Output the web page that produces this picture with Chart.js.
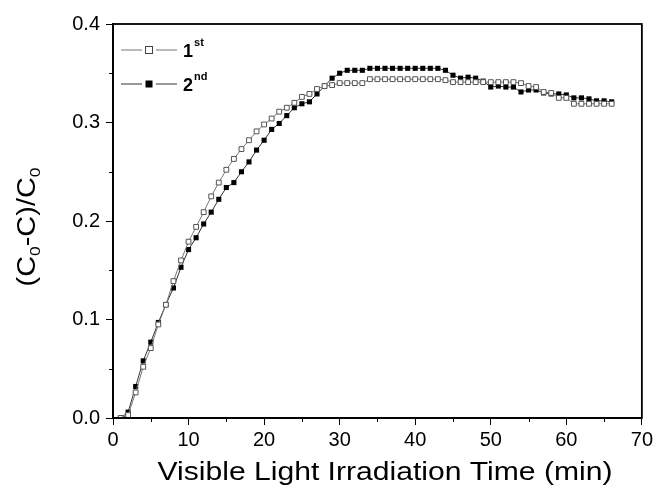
<!DOCTYPE html>
<html>
<head>
<meta charset="utf-8">
<script src="https://cdn.jsdelivr.net/npm/chart.js@4"></script>
<style>
  html, body { margin: 0; padding: 0; background: #fff; }
  #wrap { width: 656px; height: 487px; }
</style>
</head>
<body>
<div id="wrap"><canvas id="grafico"></canvas></div>
<script>
// tempo (min)
const tempos = [1, 2, 3, 4, 5, 6, 7, 8, 9, 10, 11, 12, 13, 14, 15, 16, 17, 18, 19, 20,
  21, 22, 23, 24, 25, 26, 27, 28, 29, 30, 31, 32, 33, 34, 35, 36, 37, 38, 39, 40,
  41, 42, 43, 44, 45, 46, 47, 48, 49, 50, 51, 52, 53, 54, 55, 56, 57, 58, 59, 60,
  61, 62, 63, 64, 65, 66];

// (C0-C)/C0 - 1st ciclo
const ciclo1 = [0.000, 0.003, 0.026, 0.052, 0.071, 0.095, 0.115, 0.139, 0.160, 0.179,
  0.194, 0.209, 0.225, 0.239, 0.252, 0.263, 0.273, 0.282, 0.291, 0.298,
  0.304, 0.311, 0.315, 0.320, 0.326, 0.329, 0.334, 0.337, 0.338, 0.340,
  0.340, 0.340, 0.340, 0.344, 0.344, 0.344, 0.344, 0.344, 0.344, 0.344,
  0.344, 0.344, 0.344, 0.343, 0.341, 0.341, 0.341, 0.341, 0.341, 0.341,
  0.341, 0.341, 0.341, 0.340, 0.337, 0.336, 0.331, 0.330, 0.325, 0.325,
  0.319, 0.319, 0.319, 0.319, 0.319, 0.319];

// (C0-C)/C0 - 2nd ciclo
const ciclo2 = [0.000, 0.006, 0.032, 0.058, 0.077, 0.097, 0.115, 0.132, 0.153, 0.171,
  0.183, 0.197, 0.209, 0.222, 0.234, 0.239, 0.250, 0.260, 0.272, 0.282,
  0.293, 0.299, 0.307, 0.315, 0.319, 0.321, 0.329, 0.337, 0.345, 0.350,
  0.353, 0.353, 0.353, 0.355, 0.355, 0.355, 0.355, 0.355, 0.355, 0.355,
  0.355, 0.355, 0.355, 0.353, 0.348, 0.345, 0.346, 0.345, 0.342, 0.336,
  0.337, 0.336, 0.336, 0.331, 0.333, 0.333, 0.330, 0.329, 0.329, 0.328,
  0.325, 0.325, 0.324, 0.322, 0.322, 0.321];

const legendas = ["1", "2"];
const sobrescritos = ["st", "nd"];
const tituloX = "Visible Light Irradiation Time (min)";

const fonte = '"Liberation Sans", Arial, sans-serif';

function pontos(ys) {
  return tempos.map((t, i) => ({ x: t, y: ys[i] }));
}

const ehMaiorX = (v) => Math.round(v) % 10 === 0;
const ehMaiorY = (v) => Math.round(v * 100) % 10 === 0;

// moldura, ticks menores, legenda e titulos (subscritos/sobrescritos)
const extras = {
  id: "extras",
  afterDraw(chart) {
    const ctx = chart.ctx;
    const a = chart.chartArea;
    const sx = chart.scales.x;
    const sy = chart.scales.y;
    ctx.save();

    ctx.strokeStyle = "#000";
    ctx.lineWidth = 1.8;
    ctx.strokeRect(a.left, a.top, a.right - a.left, a.bottom - a.top);

    // ticks menores
    ctx.lineWidth = 1;
    ctx.beginPath();
    sx.ticks.forEach((t) => {
      if (ehMaiorX(t.value)) return;
      const px = Math.round(sx.getPixelForValue(t.value)) + 0.5;
      ctx.moveTo(px, a.bottom); ctx.lineTo(px, a.bottom + 4);
    });
    sy.ticks.forEach((t) => {
      if (ehMaiorY(t.value)) return;
      const py = Math.round(sy.getPixelForValue(t.value)) + 0.5;
      ctx.moveTo(a.left, py); ctx.lineTo(a.left - 4, py);
    });
    ctx.stroke();

    // legenda
    const linhas = [a.top + 26, a.top + 60];
    linhas.forEach((y, i) => {
      ctx.strokeStyle = i === 0 ? "#777" : "#333";
      ctx.lineWidth = 1;
      ctx.beginPath();
      ctx.moveTo(a.left + 8, y); ctx.lineTo(a.left + 29, y);
      ctx.moveTo(a.left + 43, y); ctx.lineTo(a.left + 64, y);
      ctx.stroke();
      if (i === 0) {
        ctx.fillStyle = "#fff";
        ctx.fillRect(a.left + 32.5, y - 3.5, 7, 7);
        ctx.strokeStyle = "#444";
        ctx.strokeRect(a.left + 32.5, y - 3.5, 7, 7);
      } else {
        ctx.fillStyle = "#000";
        ctx.fillRect(a.left + 32.5, y - 3.5, 7, 7);
      }
      ctx.fillStyle = "#000";
      ctx.textBaseline = "alphabetic";
      ctx.textAlign = "left";
      ctx.font = "bold 18px " + fonte;
      ctx.fillText(legendas[i], a.left + 70, y + 7);
      const w = ctx.measureText(legendas[i]).width;
      ctx.font = "bold 11px " + fonte;
      ctx.fillText(sobrescritos[i], a.left + 71 + w, y - 4);
    });

    // titulo eixo X (esticado na horizontal como no original)
    ctx.fillStyle = "#000";
    ctx.font = "25px " + fonte;
    ctx.textAlign = "center";
    ctx.textBaseline = "alphabetic";
    const larguraX = ctx.measureText(tituloX).width;
    ctx.save();
    ctx.translate(385, 480);
    ctx.scale(455 / larguraX, 1);
    ctx.fillText(tituloX, 0, 0);
    ctx.restore();

    // titulo eixo Y: (C0-C)/C0
    ctx.translate(35, 227);
    ctx.rotate(-Math.PI / 2);
    const partes = [["(C", false], ["0", true], ["-C)/C", false], ["0", true]];
    let total = 0;
    partes.forEach(([t, sub]) => {
      ctx.font = (sub ? "15px " : "25px ") + fonte;
      total += ctx.measureText(t).width;
    });
    ctx.scale(119 / total, 1);
    let x = -total / 2;
    ctx.textAlign = "left";
    partes.forEach(([t, sub]) => {
      ctx.font = (sub ? "15px " : "25px ") + fonte;
      ctx.fillText(t, x, sub ? 5 : 0);
      x += ctx.measureText(t).width;
    });
    ctx.restore();
  }
};

new Chart(document.getElementById("grafico").getContext("2d"), {
  type: "scatter",
  data: {
    datasets: [
      {
        label: "1st",
        data: pontos(ciclo1),
        showLine: true,
        borderColor: "#777",
        borderWidth: 1,
        pointStyle: "rect",
        pointRadius: 3.4,
        pointBorderWidth: 1,
        pointBorderColor: "#555",
        pointBackgroundColor: "#fff",
      },
      {
        label: "2nd",
        data: pontos(ciclo2),
        showLine: true,
        borderColor: "#333",
        borderWidth: 1,
        pointStyle: "rect",
        pointRadius: 3.6,
        pointBorderWidth: 0,
        pointBackgroundColor: "#000",
      },
    ],
  },
  options: {
    responsive: true,
    maintainAspectRatio: false,
    animation: false,
    events: [],
    layout: { padding: { top: 24, right: 12, left: 0, bottom: 0 } },
    plugins: {
      legend: { display: false },
      tooltip: { enabled: false },
    },
    scales: {
      x: {
        type: "linear",
        min: 0,
        max: 70,
        border: { color: "#000", width: 1.8 },
        grid: {
          drawOnChartArea: false,
          tickLength: 7,
          lineWidth: 1,
          tickColor: (c) => (ehMaiorX(c.tick.value) ? "#000" : "rgba(0,0,0,0)"),
        },
        ticks: {
          stepSize: 5,
          autoSkip: false,
          maxRotation: 0,
          padding: 3,
          color: "#000",
          font: { family: fonte, size: 20 },
          callback: (v) => (ehMaiorX(v) ? String(v) : ""),
        },
        afterFit: (s) => { s.height = 69; },
      },
      y: {
        type: "linear",
        min: 0,
        max: 0.4,
        border: { color: "#000", width: 1.8 },
        grid: {
          drawOnChartArea: false,
          tickLength: 7,
          lineWidth: 1,
          tickColor: (c) => (ehMaiorY(c.tick.value) ? "#000" : "rgba(0,0,0,0)"),
        },
        ticks: {
          stepSize: 0.05,
          autoSkip: false,
          padding: 6,
          color: "#000",
          font: { family: fonte, size: 20 },
          callback: (v) => (ehMaiorY(v) ? v.toFixed(1) : ""),
        },
        afterFit: (s) => { s.width = 113; },
      },
    },
  },
  plugins: [extras],
});
</script>
</body>
</html>
